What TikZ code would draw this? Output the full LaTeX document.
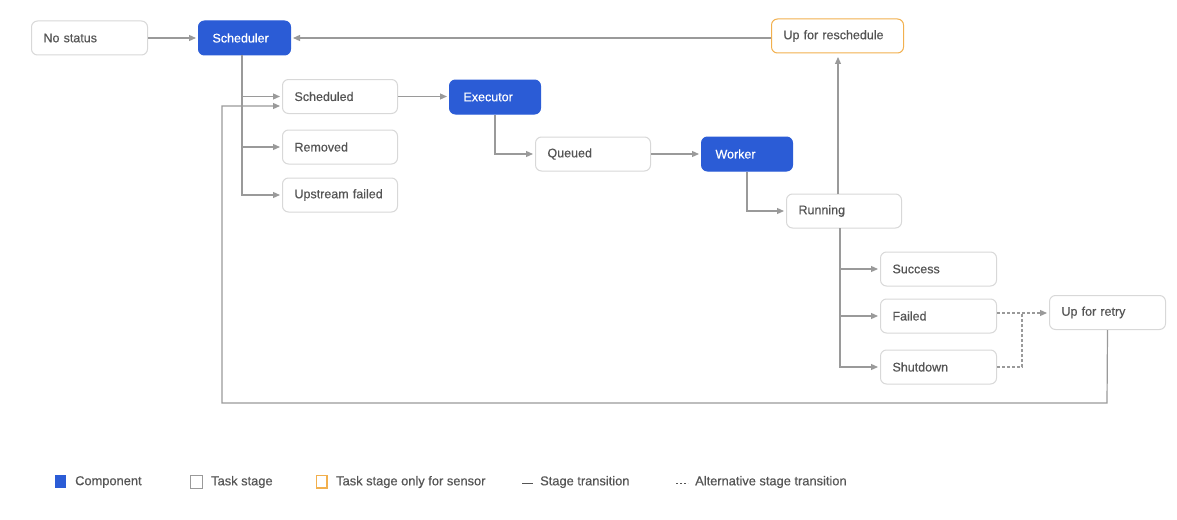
\documentclass[tikz,border=0pt]{standalone}
\usepackage{fontspec}
\setmainfont{Liberation Sans}
\newfontfamily\medfont{Liberation Sans}[FakeBold=0.5]
\usetikzlibrary{arrows.meta}
\definecolor{cblue}{HTML}{2B5CD6}
\definecolor{corange}{HTML}{F2B04E}
\definecolor{cborder}{HTML}{D8D8D8}
\definecolor{ctext}{HTML}{555555}
\definecolor{cline}{HTML}{9A9A9A}
\begin{document}
\begin{tikzpicture}[x=1pt,y=-1pt,
  basebox/.style={rounded corners=6pt, line width=1pt, minimum height=34pt,
    inner xsep=12pt, inner ysep=0pt, align=left, anchor=west,
    font=\medfont\fontsize{12.5}{14}\selectfont, text width=#1},
  stagebox/.style={basebox=#1, draw=cborder, fill=white, text=ctext},
  compbox/.style={basebox=#1, draw=cblue, fill=cblue, text=white, inner xsep=14pt},
  sensorbox/.style={basebox=#1, draw=corange, fill=white, text=ctext},
  conn/.style={draw=cline, line width=1.2pt, -{Triangle[length=7pt,width=6pt]}, shorten >=2pt},
  plainconn/.style={draw=cline, line width=1.2pt},
  dconn/.style={conn, dashed, dash pattern=on 3pt off 2pt},
  legtext/.style={anchor=west, text=ctext, font=\medfont\fontsize{12.85}{15}\selectfont, inner sep=0pt}
]
\useasboundingbox (0,0) rectangle (1177,519);

% nodes
\node[stagebox=92pt] (nostatus) at (31,38) {No status};
\node[compbox=64pt] (scheduler) at (198,38) {Scheduler};
\node[sensorbox=108pt] (resched) at (771,36) {Up for reschedule};
\node[stagebox=91pt] (scheduled) at (282,96.5) {Scheduled};
\node[compbox=63pt] (executor) at (449,97) {Executor};
\node[stagebox=91pt] (removed) at (282,147) {Removed};
\node[stagebox=91pt] (upfailed) at (282,195) {Upstream failed};
\node[stagebox=91pt] (queued) at (535,154) {Queued};
\node[compbox=63pt] (worker) at (701,154) {Worker};
\node[stagebox=91pt] (running) at (786,211) {Running};
\node[stagebox=92pt] (success) at (880,269) {Success};
\node[stagebox=92pt] (failed) at (880,316) {Failed};
\node[stagebox=92pt] (shutdown) at (880,367) {Shutdown};
\node[stagebox=92pt] (retry) at (1049,312.5) {Up for retry};

% helper coordinates
\coordinate (strunk) at (242,55);
\coordinate (rtrunk) at (840,228);
\coordinate (rup) at (838,194);
\coordinate (reschin) at (838,53);
\coordinate (lp1) at (1107,403);
\coordinate (lp2) at (222,403);
\coordinate (lp3) at (222,106);
\coordinate (schin) at (282,106);
\coordinate (rsin) at (771,38);
\coordinate (retin) at (1049,313);
\coordinate (sdmid) at (1022,367);
\coordinate (sdtop) at (1022,313);

% connectors
\draw[conn] (nostatus) -- (scheduler);
\draw[conn] (rsin) -- (scheduler.east |- rsin);
\draw[conn] (strunk) |- (scheduled.west);
\draw[conn] (strunk) |- (removed.west);
\draw[conn] (strunk) |- (upfailed.west);
\draw[conn] (retry.south) -- (lp1) -- (lp2) -- (lp3) -- (schin);
\draw[conn] (scheduled) -- (executor.west |- scheduled);
\draw[conn] (executor.south) |- (queued.west);
\draw[conn] (queued) -- (worker);
\draw[conn] (worker.south) |- (running.west);
\draw[conn, shorten >=4pt] (rup) -- (reschin);
\draw[conn] (rtrunk) |- (success.west);
\draw[conn] (rtrunk) |- (failed.west);
\draw[conn] (rtrunk) |- (shutdown.west);
\draw[dconn] (failed.east |- retin) -- (retin);
\draw[plainconn, dashed, dash pattern=on 3pt off 2pt] (shutdown.east) -- (sdmid) -- (sdtop);

% legend
\fill[cblue] (55,475) rectangle (66,488);
\node[legtext] (lg1) at (75,482) {Component};
\draw[cline, line width=1pt] (190.5,475.5) rectangle (202,488);
\node[legtext] (lg2) at (211,482) {Task stage};
\draw[corange, line width=1.2pt] (316.5,475.5) rectangle (327,488);
\node[legtext] (lg3) at (336,482) {Task stage only for sensor};
\draw[ctext, line width=0.8pt] (522,483) -- (533,483);
\node[legtext] (lg4) at (540,482) {Stage transition};
\draw[ctext, line width=0.8pt, dash pattern=on 2pt off 2pt] (676,483) -- (688,483);
\node[legtext] (lg5) at (695,482) {Alternative stage transition};
\end{tikzpicture}
\end{document}
